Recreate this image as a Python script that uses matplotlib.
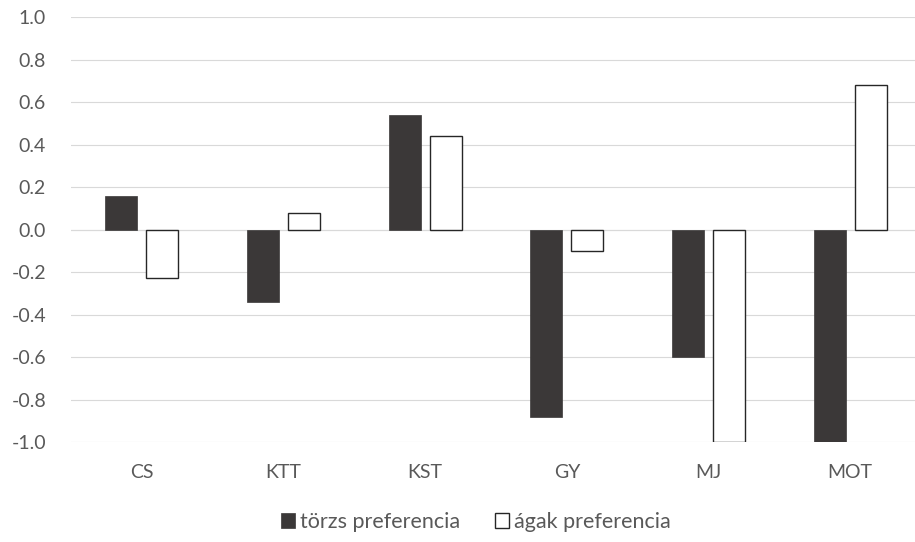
import matplotlib.pyplot as plt
import numpy as np

# Data
categories = ['CS', 'KTT', 'KST', 'GY', 'MJ', 'MOT']
torzs = [0.16, -0.34, 0.54, -0.88, -0.60, -1.00]
agak = [-0.23, 0.08, 0.44, -0.10, -1.00, 0.68]
yticks = [-1.0, -0.8, -0.6, -0.4, -0.2, 0.0, 0.2, 0.4, 0.6, 0.8, 1.0]

plt.rcParams['font.family'] = ['Lato', 'DejaVu Sans']

fig = plt.figure(figsize=(9.15, 5.42), dpi=100)
ax = fig.add_axes([0.0776, 0.1845, 0.929, 0.784])

x = np.arange(len(categories))
w = 0.226
ax.bar(x - 0.145, torzs, w, color='#3b3838', edgecolor='#3b3838', linewidth=0.5,
       label='törzs preferencia', zorder=3)
ax.bar(x + 0.145, agak, w, color='white', edgecolor='#262626', linewidth=1.0,
       label='ágak preferencia', zorder=3)

ax.set_xlim(-0.5, len(categories) - 0.5)
ax.set_ylim(-1.0, 1.0)
ax.set_yticks(yticks)
ax.set_yticklabels(['%.1f' % v for v in yticks])
ax.set_xticks(x)
ax.set_xticklabels(categories)
ax.yaxis.grid(True, color='#d9d9d9', linewidth=0.8, zorder=0)
ax.axhline(0, color='#d9d9d9', linewidth=0.8, zorder=1)
for s in ax.spines.values():
    s.set_visible(False)
ax.tick_params(axis='both', length=0, labelsize=14, colors='#595959')
ax.tick_params(axis='y', pad=18)
ax.tick_params(axis='x', pad=16)

leg = fig.legend(loc='center', bbox_to_anchor=(0.52, 0.037), ncol=2, frameon=False,
                 fontsize=15.5, handlelength=0.65, handleheight=0.65, handletextpad=0.25,
                 columnspacing=1.6)
for t in leg.get_texts():
    t.set_color('#595959')

plt.savefig('out.png', dpi=100)
